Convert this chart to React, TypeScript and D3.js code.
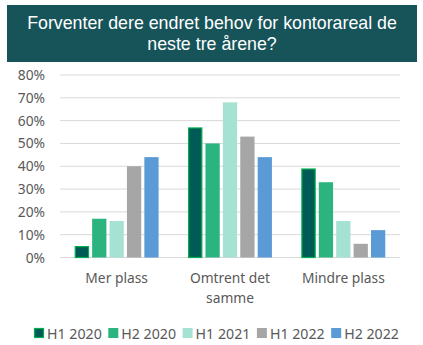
import React from "react";
import * as d3 from "d3";

const categories = ["Mer plass", "Omtrent det samme", "Mindre plass"];
const categoryLines = [["Mer plass"], ["Omtrent det", "samme"], ["Mindre plass"]];
const seriesNames = ["H1 2020", "H2 2020", "H1 2021", "H1 2022", "H2 2022"];
const h1_2020 = [5, 57, 39];
const h2_2020 = [17, 50, 33];
const h1_2021 = [16, 68, 16];
const h1_2022 = [40, 53, 6];
const h2_2022 = [44, 44, 12];
const seriesValues = [h1_2020, h2_2020, h1_2021, h1_2022, h2_2022];
const yTicks = [0, 10, 20, 30, 40, 50, 60, 70, 80];
const colors = ["#005A55", "#2BB47F", "#A6E2D3", "#A6A6A6", "#5B9BD5"];
const titleLines = ["Forventer dere endret behov for kontorareal de", "neste tre årene?"];

const W = 423, H = 345;
const left = 60, right = 400, top = 75, bottom = 257.5;
const font = "'Segoe UI', 'Noto Sans', 'Open Sans', sans-serif";

export default function App() {
  const x0 = d3.scaleBand<string>().domain(categories).range([left, right]).paddingInner(0.26).paddingOuter(0.13);
  const x1 = d3.scaleBand<string>().domain(seriesNames).range([0, x0.bandwidth()]).paddingInner(0.18);
  const y = d3.scaleLinear().domain([0, 80]).range([bottom, top]);

  return (
    <svg width={W} height={H} style={{ position: "absolute", left: 0, top: 0, background: "#fff" }} fontFamily={font}>
      <rect x={7} y={5} width={410} height={57} fill="#17545A" />
      {titleLines.map((t, i) => (
        <text key={i} x={212} y={29 + i * 20.6} textAnchor="middle" fill="#fff" fontSize={17.8}
          fontFamily="'Liberation Sans', Arial, sans-serif">{t}</text>
      ))}
      {yTicks.map((t) => (
        <g key={t}>
          <line x1={left} x2={right} y1={y(t)} y2={y(t)} stroke="#D9D9D9" strokeWidth={1} />
          <text x={45} y={y(t) + 5} textAnchor="end" fill="#595959" fontSize={13.8}>{t}%</text>
        </g>
      ))}
      {categories.map((c, ci) => (
        <g key={c} transform={`translate(${x0(c)},0)`}>
          {seriesNames.map((s, si) => {
            const v = seriesValues[si][ci];
            const isFirst = si === 0;
            return (
              <rect key={s}
                x={(x1(s) as number) + (isFirst ? 0.5 : 0)}
                y={y(v) + (isFirst ? 0.5 : 0)}
                width={x1.bandwidth() - (isFirst ? 1 : 0)}
                height={y(0) - y(v) - (isFirst ? 0.5 : 0)}
                fill={colors[si]}
                stroke={isFirst ? "#00B050" : "none"}
                strokeWidth={isFirst ? 1.2 : 0} />
            );
          })}
        </g>
      ))}
      {categories.map((c, ci) => (
        <text key={c} textAnchor="middle" fill="#595959" fontSize={13.8}>
          {categoryLines[ci].map((l, li) => (
            <tspan key={li} x={(x0(c) as number) + x0.bandwidth() / 2} y={283 + li * 20}>{l}</tspan>
          ))}
        </text>
      ))}
      {seriesNames.map((s, si) => {
        const lx = 34 + si * 74.3;
        return (
          <g key={s}>
            <rect x={lx + (si === 0 ? 0.5 : 0)} y={328 + (si === 0 ? 0.5 : 0)} width={si === 0 ? 9 : 10} height={si === 0 ? 9 : 10}
              fill={colors[si]} stroke={si === 0 ? "#00B050" : "none"} strokeWidth={1.2} />
            <text x={lx + 13} y={338.5} fill="#595959" fontSize={14.2}>{s}</text>
          </g>
        );
      })}
    </svg>
  );
}
